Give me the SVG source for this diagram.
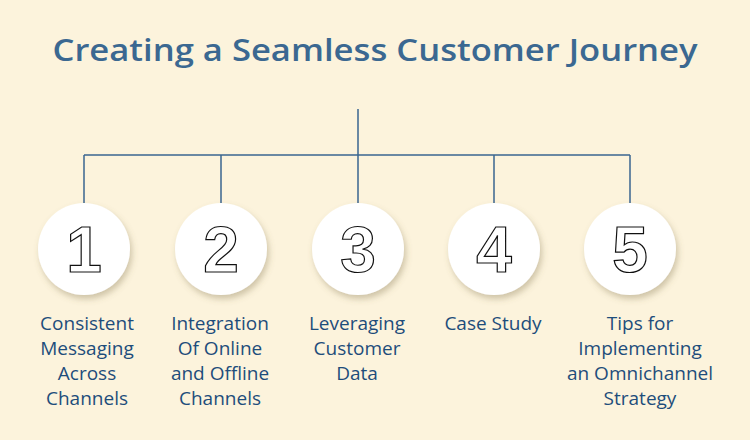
<svg xmlns="http://www.w3.org/2000/svg" width="750" height="440" viewBox="0 0 750 440">
<defs>
<filter id="sh" x="-30%" y="-30%" width="160%" height="160%">
<feDropShadow dx="2" dy="4" stdDeviation="3" flood-color="#7a6a40" flood-opacity="0.35"/>
</filter>
<style>
.title{font-family:"Open Sans","Liberation Sans",sans-serif;font-weight:600;font-size:30px;fill:#3b6891;}
.lbl{font-family:"Open Sans","Liberation Sans",sans-serif;font-size:19px;fill:#1e4d7b;text-anchor:middle;}
.num{font-family:"Liberation Sans",Arial,sans-serif;font-weight:bold;font-size:64px;fill:#fff;stroke:#111;stroke-width:1.2;text-anchor:middle;}
.ln{stroke:#3a6690;stroke-width:1.5;fill:none;}
.c{fill:#fff;filter:url(#sh);}
</style>
</defs>
<rect width="750" height="440" fill="#fcf3dc"/>
<text class="title" x="375" y="61" text-anchor="middle" textLength="645" lengthAdjust="spacingAndGlyphs">Creating a Seamless Customer Journey</text>
<g id="connectors">
<path class="ln" d="M358 109V155M84 155H630M84 155V203M221 155V203M358 155V203M494 155V203M630 155V203"/>
</g>
<g id="node1"><circle class="c" cx="84" cy="249" r="46"/><text class="num" x="84" y="272">1</text>
<text class="lbl" x="87" y="330">Consistent</text><text class="lbl" x="87" y="355">Messaging</text><text class="lbl" x="87" y="380">Across</text><text class="lbl" x="87" y="405">Channels</text></g>
<g id="node2"><circle class="c" cx="221" cy="249" r="46"/><text class="num" x="221" y="272">2</text>
<text class="lbl" x="220" y="330">Integration</text><text class="lbl" x="220" y="355">Of Online</text><text class="lbl" x="220" y="380">and Offline</text><text class="lbl" x="220" y="405">Channels</text></g>
<g id="node3"><circle class="c" cx="358" cy="249" r="46"/><text class="num" x="358" y="272">3</text>
<text class="lbl" x="357" y="330">Leveraging</text><text class="lbl" x="357" y="355">Customer</text><text class="lbl" x="357" y="380">Data</text></g>
<g id="node4"><circle class="c" cx="494" cy="249" r="46"/><text class="num" x="494" y="272">4</text>
<text class="lbl" x="493" y="330">Case Study</text></g>
<g id="node5"><circle class="c" cx="630" cy="249" r="46"/><text class="num" x="630" y="272">5</text>
<text class="lbl" x="640" y="330">Tips for</text><text class="lbl" x="640" y="355">Implementing</text><text class="lbl" x="640" y="380">an Omnichannel</text><text class="lbl" x="640" y="405">Strategy</text></g>
</svg>
